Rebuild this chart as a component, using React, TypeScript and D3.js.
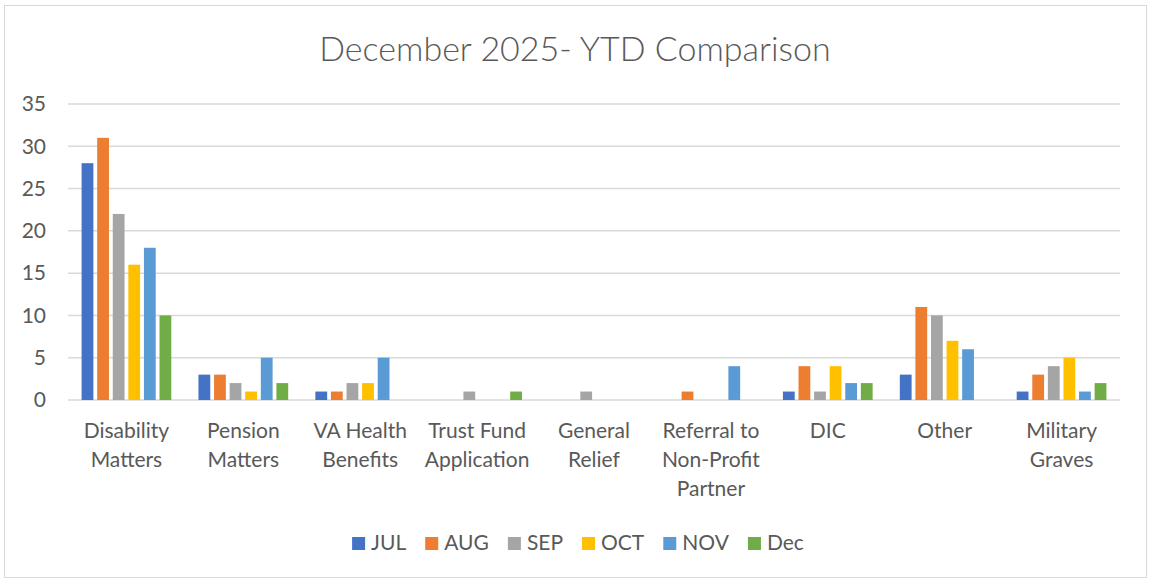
import { useEffect, useRef } from "react";
import * as d3 from "d3";

const categories = [
  ["Disability", "Matters"],
  ["Pension", "Matters"],
  ["VA Health", "Benefits"],
  ["Trust Fund", "Application"],
  ["General", "Relief"],
  ["Referral to", "Non-Profit", "Partner"],
  ["DIC"],
  ["Other"],
  ["Military", "Graves"],
];

const seriesNames = ["JUL", "AUG", "SEP", "OCT", "NOV", "Dec"];
const seriesColors = ["#4472c4", "#ed7d31", "#a5a5a5", "#ffc000", "#5b9bd5", "#70ad47"];

const jul = [28, 3, 1, 0, 0, 0, 1, 3, 1];
const aug = [31, 3, 1, 0, 0, 1, 4, 11, 3];
const sep = [22, 2, 2, 1, 1, 0, 1, 10, 4];
const oct = [16, 1, 2, 0, 0, 0, 4, 7, 5];
const nov = [18, 5, 5, 0, 0, 4, 2, 6, 1];
const dec = [10, 2, 0, 1, 0, 0, 2, 0, 2];

const yTicks = [0, 5, 10, 15, 20, 25, 30, 35];

const W = 1149;
const H = 579;
const FONT = "Lato, 'Open Sans', sans-serif";
const TEXT = "#595959";

export default function App() {
  const svgRef = useRef<SVGSVGElement>(null);

  useEffect(() => {
    if (!svgRef.current) return;
    const svg = d3.select(svgRef.current);
    svg.selectAll("*").remove();

    const series = [jul, aug, sep, oct, nov, dec];
    const left = 68;
    const right = 1120;
    const top = 104;
    const bottom = 400;

    const x = d3.scaleBand<number>().domain(d3.range(categories.length)).range([left, right]);
    const y = d3.scaleLinear().domain([0, 35]).range([bottom, top]);

    // chart frame
    svg
      .append("rect")
      .attr("x", 4.5)
      .attr("y", 5.5)
      .attr("width", 1142)
      .attr("height", 572)
      .attr("fill", "white")
      .attr("stroke", "#d9d9d9")
      .attr("stroke-width", 1);

    // title
    svg
      .append("text")
      .attr("x", 575)
      .attr("y", 61)
      .attr("text-anchor", "middle")
      .attr("fill", TEXT)
      .attr("font-family", FONT)
      .attr("font-weight", 300)
      .attr("font-size", "34px")
      .text("December 2025- YTD Comparison");

    // gridlines + y labels
    const grid = svg.append("g");
    for (const t of yTicks) {
      grid
        .append("line")
        .attr("x1", left)
        .attr("x2", right)
        .attr("y1", y(t))
        .attr("y2", y(t))
        .attr("stroke", "#d9d9d9")
        .attr("stroke-width", 1.5);
      grid
        .append("text")
        .attr("x", 46)
        .attr("y", y(t))
        .attr("dy", "0.35em")
        .attr("text-anchor", "end")
        .attr("fill", TEXT)
        .attr("font-family", FONT)
        .attr("font-size", "21px")
        .text(t);
    }

    // bars
    const band = x.bandwidth();
    const pitch = band / 7.5;
    const inner = d3
      .scaleBand<number>()
      .domain(d3.range(seriesNames.length))
      .range([0, pitch * 6]);
    const bars = svg.append("g");
    series.forEach((vals, si) => {
      vals.forEach((v, ci) => {
        if (v === 0) return;
        bars
          .append("rect")
          .attr("x", (x(ci) ?? 0) + (band - pitch * 6) / 2 + (inner(si) ?? 0) + 1.9)
          .attr("y", y(v))
          .attr("width", inner.bandwidth() - 3.8)
          .attr("height", y(0) - y(v))
          .attr("fill", seriesColors[si]);
      });
    });

    // category labels
    const labels = svg.append("g");
    categories.forEach((lines, ci) => {
      const t = labels
        .append("text")
        .attr("text-anchor", "middle")
        .attr("fill", TEXT)
        .attr("font-family", FONT)
        .attr("font-size", "21px");
      lines.forEach((ln, li) => {
        t.append("tspan")
          .attr("x", (x(ci) ?? 0) + band / 2)
          .attr("y", 438 + li * 29)
          .text(ln);
      });
    });

    // legend
    const legend = svg.append("g");
    const items = seriesNames.map((name, i) => {
      const g = legend.append("g");
      g.append("rect").attr("width", 13).attr("height", 13).attr("y", 537).attr("fill", seriesColors[i]);
      const txt = g
        .append("text")
        .attr("x", 19)
        .attr("y", 550)
        .attr("fill", TEXT)
        .attr("font-family", FONT)
        .attr("font-size", "21px")
        .text(name);
      const w = (txt.node() as SVGTextElement).getComputedTextLength();
      return { g, w: 19 + w };
    });
    const gap = 19;
    const total = d3.sum(items, (d) => d.w) + gap * (items.length - 1);
    let cx = 575 - total / 2 + 3;
    for (const it of items) {
      it.g.attr("transform", `translate(${cx},0)`);
      cx += it.w + gap;
    }
  }, []);

  return (
    <svg
      ref={svgRef}
      width={W}
      height={H}
      style={{ position: "absolute", left: 0, top: 0, display: "block" }}
    />
  );
}
